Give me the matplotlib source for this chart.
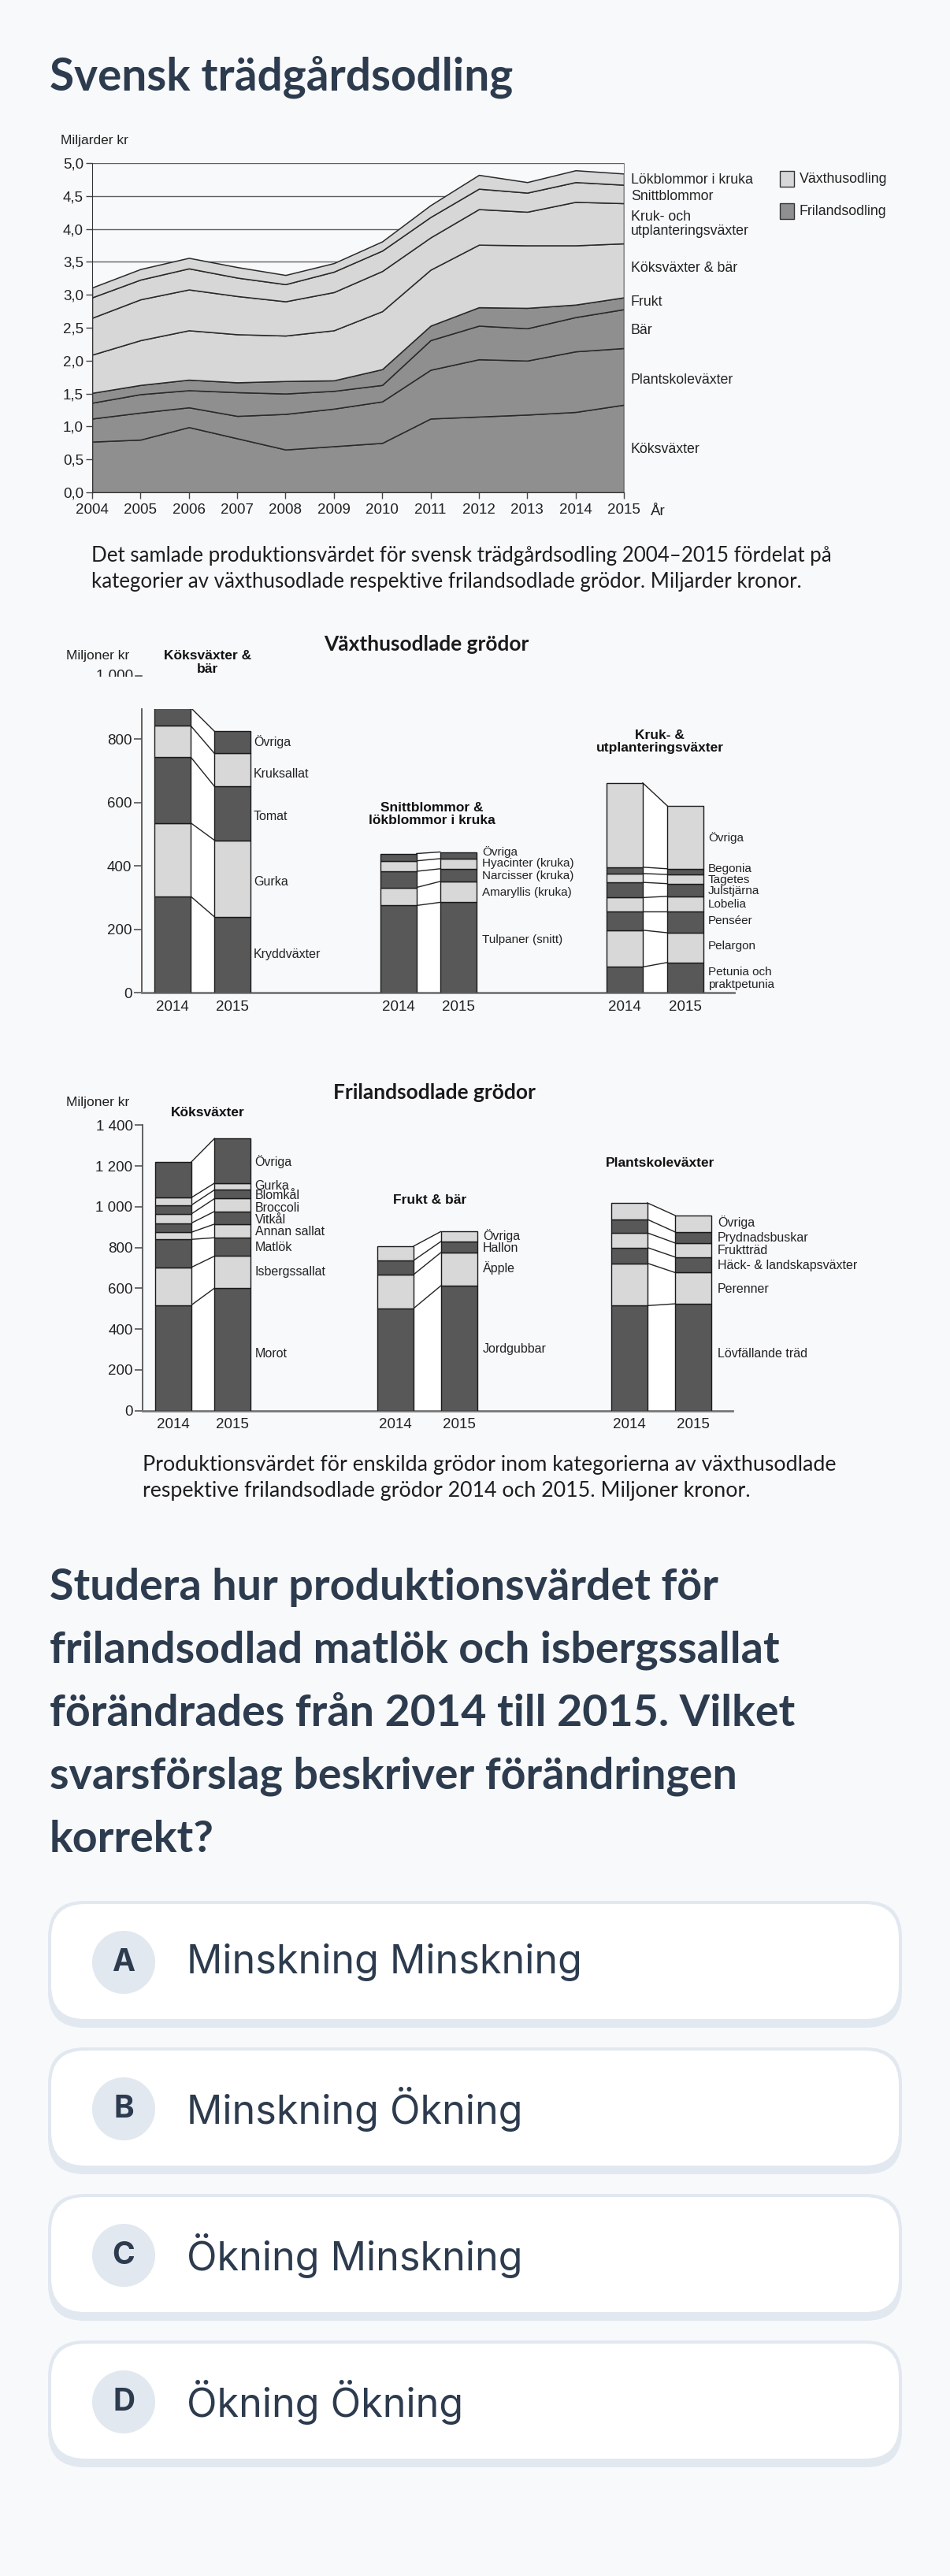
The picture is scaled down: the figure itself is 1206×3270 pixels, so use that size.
import matplotlib
matplotlib.use('Agg')
import matplotlib.pyplot as plt
from matplotlib.patches import FancyBboxPatch, Circle, Rectangle, Polygon
import numpy as np

W, H = 1206, 3270
BG = '#f8f9fb'
NAVY = '#2d3b4e'
DARK_A = '#8f8f8f'
LIGHT_A = '#d7d7d7'
DARK_B = '#585858'
LIGHT_B = '#d8d8d8'
CHART_FONT = ['Liberation Sans', 'DejaVu Sans']
CAP_FONT = ['Lato', 'DejaVu Sans']
UI_FONT = ['Lato', 'DejaVu Sans']
ANS_FONT = ['Inter', 'DejaVu Sans']

# ---------------- data: area chart (Miljarder kr) ----------------
years = list(range(2004, 2016))
fl_koksvaxter = [0.77, 0.80, 0.99, 0.82, 0.65, 0.70, 0.75, 1.12, 1.15, 1.18, 1.22, 1.33]
fl_plantskole = [0.35, 0.41, 0.30, 0.34, 0.54, 0.57, 0.63, 0.74, 0.87, 0.82, 0.92, 0.86]
fl_bar = [0.24, 0.28, 0.26, 0.36, 0.31, 0.27, 0.25, 0.45, 0.51, 0.49, 0.52, 0.59]
fl_frukt = [0.15, 0.14, 0.16, 0.15, 0.19, 0.16, 0.24, 0.22, 0.28, 0.31, 0.19, 0.18]
vh_koks_bar = [0.58, 0.68, 0.75, 0.73, 0.69, 0.76, 0.88, 0.85, 0.95, 0.95, 0.90, 0.82]
vh_kruk = [0.56, 0.62, 0.62, 0.58, 0.52, 0.58, 0.61, 0.49, 0.54, 0.51, 0.66, 0.61]
vh_snitt = [0.31, 0.30, 0.32, 0.28, 0.26, 0.31, 0.31, 0.31, 0.31, 0.29, 0.30, 0.28]
vh_lok = [0.15, 0.16, 0.16, 0.16, 0.14, 0.13, 0.14, 0.18, 0.21, 0.16, 0.18, 0.17]
area_series = [fl_koksvaxter, fl_plantskole, fl_bar, fl_frukt,
               vh_koks_bar, vh_kruk, vh_snitt, vh_lok]
area_is_greenhouse = [False, False, False, False, True, True, True, True]
area_labels = ['Köksväxter', 'Plantskoleväxter', 'Bär', 'Frukt', 'Köksväxter & bär',
               'Kruk- och\nutplanteringsväxter', 'Snittblommor', 'Lökblommor i kruka']
area_label_y = [570, 482, 419, 383, 340, 284.5, 249, 228]
area_yticks = [0, 0.5, 1.0, 1.5, 2.0, 2.5, 3.0, 3.5, 4.0, 4.5, 5.0]

# ---------------- data: växthusodlade grödor (Miljoner kr) ----------------
bar_years = ['2014', '2015']
gh_koks_names = ['Kryddväxter', 'Gurka', 'Tomat', 'Kruksallat', 'Övriga']
gh_koks_2014 = [304, 232, 208, 99, 57]
gh_koks_2015 = [239, 242, 170, 104, 70]
gh_snitt_names = ['Tulpaner (snitt)', 'Amaryllis (kruka)', 'Narcisser (kruka)',
                  'Hyacinter (kruka)', 'Övriga']
gh_snitt_2014 = [275, 57, 51, 33, 23]
gh_snitt_2015 = [285, 66, 40, 32, 21]
gh_kruk_names = ['Petunia och\npraktpetunia', 'Pelargon', 'Penséer', 'Lobelia',
                 'Julstjärna', 'Tagetes', 'Begonia', 'Övriga']
gh_kruk_2014 = [81, 116, 58, 45, 48, 28, 20, 266]
gh_kruk_2015 = [95, 94, 66, 49, 40, 29, 18, 199]
gh_yticks = [0, 200, 400, 600, 800]

# ---------------- data: frilandsodlade grödor (Miljoner kr) ----------------
fl_koks_names = ['Morot', 'Isbergssallat', 'Matlök', 'Annan sallat', 'Vitkål',
                 'Broccoli', 'Blomkål', 'Gurka', 'Övriga']
fl_koks_2014 = [518, 185, 137, 35, 45, 45, 43, 37, 175]
fl_koks_2015 = [601, 157, 90, 67, 62, 63, 43, 33, 219]
fl_frukt_names = ['Jordgubbar', 'Äpple', 'Hallon', 'Övriga']
fl_frukt_2014 = [502, 166, 69, 70]
fl_frukt_2015 = [612, 163, 54, 49]
fl_plant_names = ['Lövfällande träd', 'Perenner', 'Häck- & landskapsväxter',
                  'Fruktträd', 'Prydnadsbuskar', 'Övriga']
fl_plant_2014 = [515, 208, 77, 72, 66, 81]
fl_plant_2015 = [524, 153, 76, 69, 54, 81]
fl_yticks = [0, 200, 400, 600, 800, 1000, 1200, 1400]

question_lines = ['Studera hur produktionsvärdet för',
                  'frilandsodlad matlök och isbergssallat',
                  'förändrades från 2014 till 2015. Vilket',
                  'svarsförslag beskriver förändringen',
                  'korrekt?']
answer_letters = ['A', 'B', 'C', 'D']
answer_texts = ['Minskning Minskning', 'Minskning Ökning', 'Ökning Minskning', 'Ökning Ökning']

# ---------------- figure ----------------
fig = plt.figure(figsize=(W / 100, H / 100), dpi=100, facecolor=BG)
bg = fig.add_axes([0, 0, 1, 1])
bg.set_xlim(0, W)
bg.set_ylim(H, 0)
bg.axis('off')
bg.set_zorder(0)
renderer = fig.canvas.get_renderer()


def px_axes(l, t, r, b):
    ax = fig.add_axes([l / W, 1 - b / H, (r - l) / W, (b - t) / H])
    ax.set_facecolor('none')
    ax.set_zorder(2)
    return ax


def fit_text(x, y, s, target_w, fs0=20, **kw):
    t = bg.text(x, y, s, fontsize=fs0, **kw)
    w = t.get_window_extent(renderer).width
    fs = fs0 * target_w / w
    t.set_fontsize(fs)
    return fs


# ---------------- page title ----------------
fit_text(63, 98, 'Svensk trädgårdsodling', 588, 36, family=UI_FONT,
         weight='bold', color=NAVY, va='center', ha='left')

# ---------------- area chart ----------------
ax = px_axes(117, 207, 792, 625)
cols = [LIGHT_A if g else DARK_A for g in area_is_greenhouse]
ax.stackplot(years, *area_series, colors=cols, edgecolor='#2a2a2a', linewidth=1.1, zorder=2)
ax.set_xlim(2004, 2015)
ax.set_ylim(0, 5)
ax.set_yticks(area_yticks)
ax.set_yticklabels([f'{v:.1f}'.replace('.', ',') for v in area_yticks],
                   fontsize=13.5, family=CHART_FONT, color='#222')
ax.set_xticks(years)
ax.set_xticklabels([str(y) for y in years], fontsize=13.5, family=CHART_FONT, color='#222')
ax.yaxis.grid(True, color='#606060', lw=1.0, zorder=0)
ax.set_axisbelow(True)
ax.tick_params(axis='both', direction='out', length=6, width=1, color='#444', pad=2)
ax.tick_params(axis='x', pad=4)
ax.spines['top'].set_visible(False)
ax.spines['right'].set_color('#8a8a8a')
ax.spines['left'].set_color('#333')
ax.spines['bottom'].set_color('#333')
bg.text(77, 178, 'Miljarder kr', fontsize=12.5, family=CHART_FONT, color='#222', va='center')
bg.text(826, 649, 'År', fontsize=13.5, family=CHART_FONT, color='#222', va='center')
for lab, yy in zip(area_labels, area_label_y):
    bg.text(801, yy, lab, fontsize=12.8, family=CHART_FONT, color='#222', va='center',
            linespacing=1.15)
for i, (lab, c) in enumerate([('Växthusodling', LIGHT_A), ('Frilandsodling', DARK_A)]):
    y0 = 217 + i * 41
    bg.add_patch(Rectangle((990, y0), 18, 20, fc=c, ec='#333', lw=1))
    bg.text(1015, y0 + 10, lab, fontsize=12.8, family=CHART_FONT, color='#222', va='center')

fs_cap = fit_text(116, 705, 'Det samlade produktionsvärdet för svensk trädgårdsodling 2004–2015 fördelat på',
                  937, 17, family=CAP_FONT, color='#1e1e1e', va='center')
bg.text(116, 738, 'kategorier av växthusodlade respektive frilandsodlade grödor. Miljarder kronor.',
        fontsize=fs_cap, family=CAP_FONT, color='#1e1e1e', va='center')


# ---------------- bar charts ----------------
def bar_group(ax, xpair, v14, v15, names, label_x, label_ys, fs=11):
    w = 46
    n = len(v14)
    colors = [DARK_B if i % 2 == 0 else LIGHT_B for i in range(n)]
    c14 = np.cumsum(v14)
    c15 = np.cumsum(v15)
    b14 = np.concatenate([[0], c14[:-1]])
    b15 = np.concatenate([[0], c15[:-1]])
    xr, xl = xpair[0] + w / 2, xpair[1] - w / 2
    ax.add_patch(Polygon([(xr, 0), (xr, c14[-1]), (xl, c15[-1]), (xl, 0)],
                         closed=True, fc='white', ec='none', zorder=1))
    for i in range(n):
        ax.plot([xr, xl], [c14[i], c15[i]], color='#222', lw=1.0, zorder=2)
    ax.bar([xpair[0]] * n, v14, bottom=b14, width=w, color=colors, edgecolor='#1a1a1a',
           lw=1.0, zorder=3)
    ax.bar([xpair[1]] * n, v15, bottom=b15, width=w, color=colors, edgecolor='#1a1a1a',
           lw=1.0, zorder=3)
    for nm, yy in zip(names, label_ys):
        bg.text(label_x, yy, nm, fontsize=fs, family=CHART_FONT, color='#222', va='center',
                linespacing=1.1)


def style_bar_axes(ax, yticks, labels):
    for s in ['top', 'right']:
        ax.spines[s].set_visible(False)
    ax.spines['left'].set_color('#555')
    ax.spines['left'].set_linewidth(1.3)
    ax.spines['bottom'].set_color('#777')
    ax.spines['bottom'].set_linewidth(2)
    ax.set_yticks(yticks)
    ax.set_yticklabels(labels, fontsize=13.5, family=CHART_FONT, color='#222')
    ax.tick_params(axis='y', direction='out', length=7, width=1.2, color='#555', pad=2)
    ax.tick_params(axis='x', length=0, pad=7, labelsize=13.5)
    for t in ax.get_xticklabels():
        t.set_family(CHART_FONT)
        t.set_color('#222')


# Växthusodlade grödor
fit_text(541, 818, 'Växthusodlade grödor', 260, 17, family=CAP_FONT, weight='bold',
         color='#1a1a1a', ha='center', va='center')
bg.text(84, 832, 'Miljoner kr', fontsize=12.5, family=CHART_FONT, color='#222', va='center')
ax2 = px_axes(180, 900, 932, 1260)
ax2.set_xlim(180, 932)
ax2.set_ylim(0, 360 / 0.402)
gh_pos = [(219, 295.3), (505.8, 581.8), (793, 870)]
bar_group(ax2, gh_pos[0], gh_koks_2014, gh_koks_2015, gh_koks_names, 322,
          [1211, 1119, 1036, 982, 942], fs=11.5)
bar_group(ax2, gh_pos[1], gh_snitt_2014, gh_snitt_2015, gh_snitt_names, 612,
          [1193, 1133, 1112, 1096, 1082], fs=11)
bar_group(ax2, gh_pos[2], gh_kruk_2014, gh_kruk_2015, gh_kruk_names, 899,
          [1242, 1201, 1169, 1148, 1131, 1117, 1103, 1064], fs=11)
ax2.set_xticks([p for pair in gh_pos for p in pair])
ax2.set_xticklabels(bar_years * 3)
style_bar_axes(ax2, gh_yticks, [str(v) for v in gh_yticks])
# the cut-off "1 000" tick at the top of the image
bg.text(169, 858, '1 000', fontsize=13.5, family=CHART_FONT, color='#222', va='center', ha='right', zorder=1)
bg.plot([172, 180], [858, 858], color='#555', lw=1.2, zorder=1)
bg.add_patch(Rectangle((60, 859), 900, 40.5, fc=BG, ec='none', zorder=3))
for txt, x, y in [('Köksväxter &\nbär', 263.6, 841), ('Snittblommor &\nlökblommor i kruka', 548.6, 1033.5),
                  ('Kruk- &\nutplanteringsväxter', 837.7, 941.7)]:
    bg.text(x, y, txt, fontsize=12.5, family=CHART_FONT, weight='bold', color='#111',
            ha='center', va='center', linespacing=1.12, zorder=4)

# Frilandsodlade grödor
fit_text(551, 1387, 'Frilandsodlade grödor', 258, 17, family=CAP_FONT, weight='bold',
         color='#1a1a1a', ha='center', va='center')
bg.text(84, 1399, 'Miljoner kr', fontsize=12.5, family=CHART_FONT, color='#222', va='center')
ax3 = px_axes(181, 1428.3, 930, 1790.7)
ax3.set_xlim(181, 930)
ax3.set_ylim(0, 1400)
fl_pos = [(220, 295.4), (502.2, 582.5), (798.7, 880.2)]
bar_group(ax3, fl_pos[0], fl_koks_2014, fl_koks_2015, fl_koks_names, 323.6,
          [1718, 1614, 1583, 1563, 1548, 1533, 1517, 1505, 1475], fs=11.5)
bar_group(ax3, fl_pos[1], fl_frukt_2014, fl_frukt_2015, fl_frukt_names, 613,
          [1712, 1610, 1584, 1569], fs=11.5)
bar_group(ax3, fl_pos[2], fl_plant_2014, fl_plant_2015, fl_plant_names, 911,
          [1718, 1636, 1606, 1587, 1571, 1552], fs=11.5)
ax3.set_xticks([p for pair in fl_pos for p in pair])
ax3.set_xticklabels(bar_years * 3)
style_bar_axes(ax3, fl_yticks, [f'{v:,}'.replace(',', ' ') for v in fl_yticks])
for txt, x, y in [('Köksväxter', 263.6, 1412), ('Frukt & bär', 545.7, 1523),
                  ('Plantskoleväxter', 837.7, 1476.7)]:
    bg.text(x, y, txt, fontsize=12.5, family=CHART_FONT, weight='bold', color='#111',
            ha='center', va='center')

fs_cap2 = fit_text(181, 1859, 'Produktionsvärdet för enskilda grödor inom kategorierna av växthusodlade',
                   877, 17, family=CAP_FONT, color='#1e1e1e', va='center')
bg.text(181, 1892.5, 'respektive frilandsodlade grödor 2014 och 2015. Miljoner kronor.',
        fontsize=fs_cap2, family=CAP_FONT, color='#1e1e1e', va='center')

# ---------------- question ----------------
q_y = [2015, 2095, 2175, 2255, 2335]
fs_q = fit_text(63, q_y[0], question_lines[0], 850, 34, family=UI_FONT, weight='bold',
                color=NAVY, va='center')
for line, yy in zip(question_lines[1:], q_y[1:]):
    bg.text(63, yy, line, fontsize=fs_q, family=UI_FONT, weight='bold', color=NAVY, va='center')

# ---------------- answers ----------------
fs_ans = None
for i, (L, txt) in enumerate(zip(answer_letters, answer_texts)):
    top = 2413 + i * 186
    bg.add_patch(FancyBboxPatch((61, top), 1084, 161, boxstyle='round,pad=0,rounding_size=46',
                                fc='#e2e8f0', ec='none', zorder=1))
    bg.add_patch(FancyBboxPatch((65, top + 4), 1076, 146, boxstyle='round,pad=0,rounding_size=43',
                                fc='white', ec='none', zorder=2))
    cy = top + 78
    bg.add_patch(Circle((157, cy), 40, fc='#e2e8f0', ec='none', zorder=3))
    bg.text(157, cy, L, fontsize=28, family=ANS_FONT, weight='bold', color=NAVY,
            ha='center', va='center', zorder=4)
    if fs_ans is None:
        t = bg.text(237, cy, txt, fontsize=30, family=ANS_FONT, color=NAVY, va='center', zorder=4)
        fs_ans = 30 * 503 / t.get_window_extent(renderer).width
        t.set_fontsize(fs_ans)
    else:
        bg.text(237, cy, txt, fontsize=fs_ans, family=ANS_FONT, color=NAVY, va='center', zorder=4)

fig.savefig('out.png', dpi=100, facecolor=BG)
